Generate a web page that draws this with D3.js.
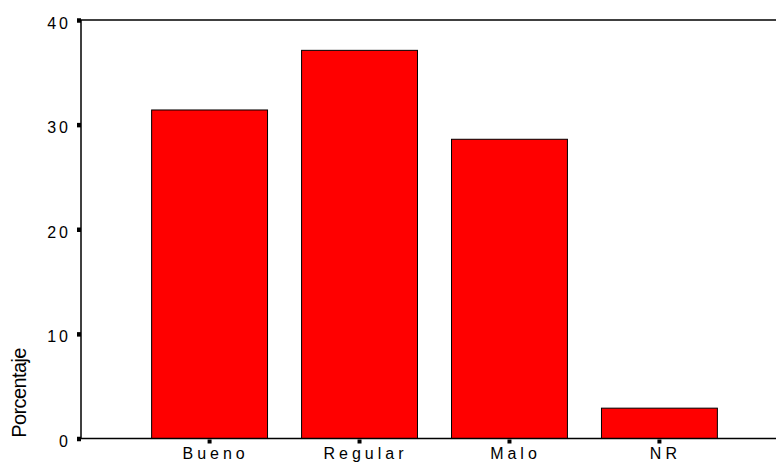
<!DOCTYPE html>
<html>
<head>
<meta charset="utf-8">
<script src="https://cdn.jsdelivr.net/npm/d3@7"></script>
<style>
  body { margin: 0; background: #fff; }
  text { font-family: Arial, "Liberation Sans", sans-serif; fill: #000; }
</style>
</head>
<body>
<script>
// chart data
var categories = ["Bueno", "Regular", "Malo", "NR"];
var values = [31.4, 37.1, 28.6, 2.9];
var yTicks = [0, 10, 20, 30, 40];

var width = 776, height = 462;
var margin = {top: 20, left: 81, bottom: 23};

var svg = d3.select("body").append("svg")
    .attr("width", width)
    .attr("height", height);

// scales
var x = d3.scaleBand()
    .domain(categories)
    .range([margin.left, 788])
    .paddingInner(0.227)
    .paddingOuter(0.471);

var y = d3.scaleLinear()
    .domain([0, 40])
    .range([height - margin.bottom - 0.5, margin.top]);

// frame lines: left, top
svg.append("line")
    .attr("x1", margin.left).attr("x2", margin.left)
    .attr("y1", y(40)).attr("y2", y(0))
    .attr("stroke", "#000").attr("stroke-width", 1.5);
svg.append("line")
    .attr("x1", margin.left).attr("x2", width)
    .attr("y1", y(40)).attr("y2", y(40))
    .attr("stroke", "#000").attr("stroke-width", 1.5);

// bars
svg.selectAll(".bar")
    .data(values)
  .enter().append("rect")
    .attr("class", "bar")
    .attr("x", function(d, i) { return x(categories[i]); })
    .attr("y", function(d) { return y(d); })
    .attr("width", x.bandwidth())
    .attr("height", function(d) { return y(0) - y(d); })
    .attr("fill", "#ff0000")
    .attr("stroke", "#000")
    .attr("stroke-width", 1);

// baseline
svg.append("line")
    .attr("x1", margin.left).attr("x2", width)
    .attr("y1", y(0)).attr("y2", y(0))
    .attr("stroke", "#000").attr("stroke-width", 1.5);

// y axis ticks (small squares) and labels
var yAxis = svg.append("g")
    .attr("transform", "translate(" + margin.left + ",0)")
    .call(d3.axisLeft(y).tickValues(yTicks).tickSize(4).tickPadding(6));
yAxis.select(".domain").remove();
yAxis.selectAll(".tick line").attr("stroke-width", 4.5);
yAxis.selectAll(".tick text")
    .attr("dy", "0.5em")
    .style("font-size", "16px")
    .style("letter-spacing", "3px")
    .style("font-family", "Arial, 'Liberation Sans', sans-serif");

// x axis ticks and labels
var xAxis = svg.append("g")
    .attr("transform", "translate(0," + y(0) + ")")
    .call(d3.axisBottom(x).tickSize(4).tickPadding(5));
xAxis.select(".domain").remove();
xAxis.selectAll(".tick line").attr("stroke-width", 4).attr("transform", "translate(0,1)");
xAxis.selectAll(".tick text")
    .attr("dx", "6px")
    .style("font-size", "16px")
    .style("letter-spacing", "4px")
    .style("font-family", "Arial, 'Liberation Sans', sans-serif");

// y axis title
svg.append("text")
    .attr("transform", "translate(26,393) rotate(-90)")
    .attr("text-anchor", "middle")
    .style("font-size", "20px")
    .style("letter-spacing", "-0.6px")
    .text("Porcentaje");
</script>
</body>
</html>
